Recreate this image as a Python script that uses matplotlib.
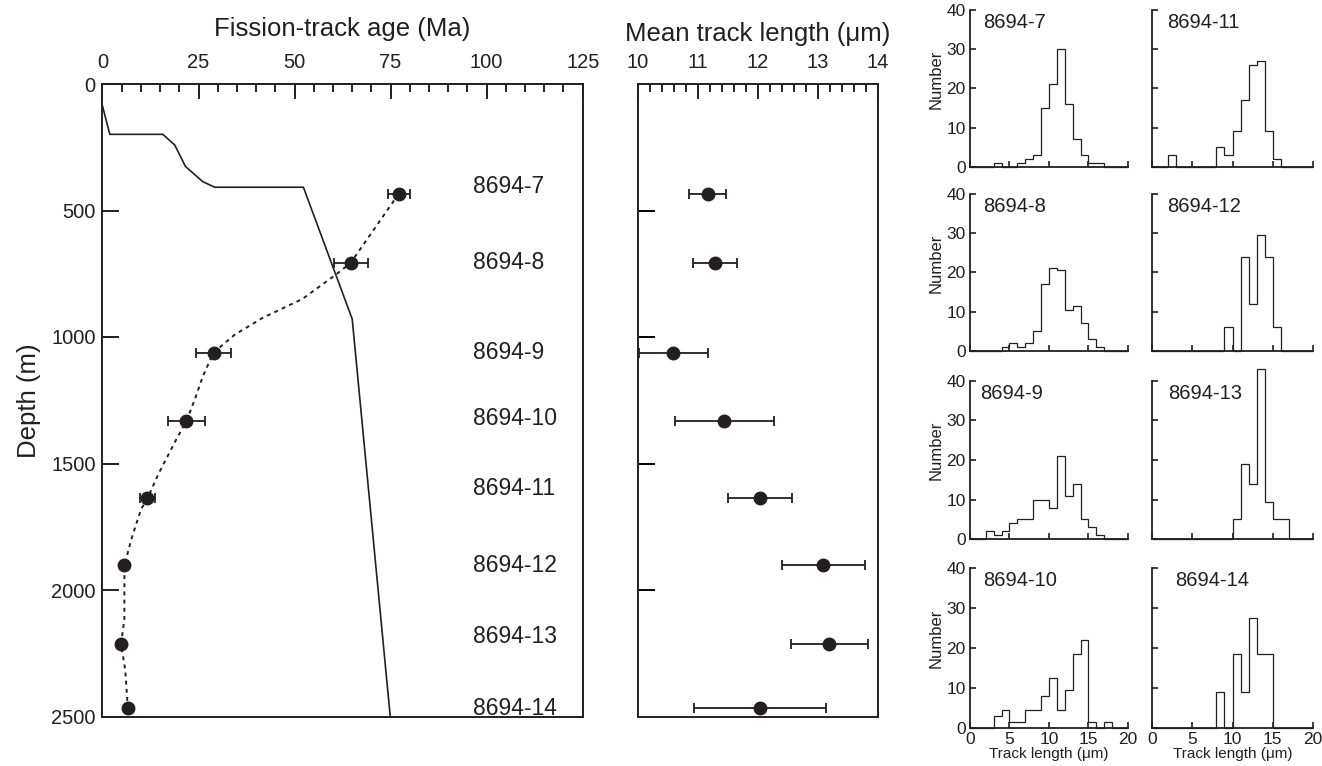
import numpy as np
import matplotlib
matplotlib.use('Agg')
import matplotlib.pyplot as plt
from matplotlib.ticker import MultipleLocator

plt.rcParams['font.family'] = ['Liberation Sans', 'DejaVu Sans']
ink = '#231f20'

# ---- data ----
samples = ['8694-7', '8694-8', '8694-9', '8694-10', '8694-11', '8694-12', '8694-13', '8694-14']
depth = [434, 707, 1062, 1333, 1638, 1903, 2215, 2467]
label_depth = [405, 707, 1063, 1323, 1600, 1903, 2183, 2467]
ft_age = [77.1, 64.6, 28.9, 21.8, 11.7, 5.7, 4.8, 6.6]
ft_age_err = [2.9, 4.4, 4.6, 4.8, 2.0, 0.0, 0.0, 0.0]

# dotted line through the ages
trend_age = [77.1, 64.6, 60.7, 52.0, 41.6, 34.4, 28.9, 26.1, 24.0, 23.0, 21.8, 19.2, 14.7,
             11.7, 10.0, 7.5, 5.7, 5.7, 4.8, 5.9, 6.6]
trend_depth = [434, 707, 754, 850, 925, 991, 1062, 1156, 1248, 1287, 1333, 1405, 1537,
               1638, 1682, 1800, 1903, 2116, 2215, 2313, 2467]

# solid line
model_age = [0, 1.9, 15.7, 18.8, 21.6, 26.1, 29.2, 52.3, 65.0, 74.9]
model_depth = [87, 199, 199, 241, 326, 386, 408, 408, 929, 2500]

# mean track length
mtl = [11.16, 11.28, 10.59, 11.44, 12.03, 13.09, 13.19, 12.03]
mtl_err = [0.31, 0.37, 0.57, 0.82, 0.53, 0.69, 0.64, 1.1]

# track length histograms, 1 um bins from 0 to 20
bin_edges = np.arange(0, 21, 1)
h7 = [0, 0, 0, 1, 0, 0, 1, 2, 3, 15, 21, 30, 16, 7, 3, 1, 1, 0, 0, 0]
h8 = [0, 0, 0, 0, 1, 2, 1, 2, 5, 17, 21, 20.5, 10.5, 11.5, 7, 3, 1, 0, 0, 0]
h9 = [0, 0, 2, 1, 2, 4, 5, 5, 10, 10, 8, 21, 11, 14, 5, 3, 1, 0, 0, 0]
h10 = [0, 0, 0, 3, 4.5, 1.5, 1.5, 4.5, 4.5, 8, 12.5, 4.5, 9.5, 18.5, 22, 1.5, 0, 1.5, 0, 0]
h11 = [0, 0, 3, 0, 0, 0, 0, 0, 5, 3, 9, 17, 26, 27, 9, 2, 0, 0, 0, 0]
h12 = [0, 0, 0, 0, 0, 0, 0, 0, 0, 6, 0, 24, 12, 29.5, 24, 6, 0, 0, 0, 0]
h13 = [0, 0, 0, 0, 0, 0, 0, 0, 0, 0, 5, 19, 14, 43, 9.5, 5, 5, 0, 0, 0]
h14 = [0, 0, 0, 0, 0, 0, 0, 0, 9, 0, 18.5, 9, 27.5, 18.5, 18.5, 0, 0, 0, 0, 0]

W, H = 1322, 766
fig = plt.figure(figsize=(W / 100, H / 100), dpi=100)


def rect(l, t, r, b):
    return [l / W, 1 - b / H, (r - l) / W, (b - t) / H]


def box_style(ax):
    for s in ax.spines.values():
        s.set_linewidth(1.4)
        s.set_color(ink)


# ---- fission-track age vs depth ----
ax1 = fig.add_axes(rect(102.5, 84, 582.7, 716.5))
box_style(ax1)
ax1.plot(model_age, model_depth, color=ink, lw=1.2, zorder=2)
ax1.plot(trend_age, trend_depth, color=ink, lw=1.4, ls=(0, (2, 2.2)), zorder=2)
ax1.errorbar(ft_age, depth, xerr=ft_age_err, fmt='o', ms=9, color=ink, ecolor=ink,
             elinewidth=1.3, capsize=3.5, capthick=1.3, zorder=3)
for name, d in zip(samples, label_depth):
    ax1.text(96.5, d, name, fontsize=16.5, color=ink, va='center', ha='left')
ax1.set_xlim(0, 125)
ax1.set_ylim(2500, 0)
ax1.xaxis.tick_top()
ax1.xaxis.set_label_position('top')
ax1.xaxis.set_major_locator(MultipleLocator(25))
ax1.xaxis.set_minor_locator(MultipleLocator(5))
ax1.set_yticks([0, 500, 1000, 1500, 2000, 2500])
ax1.tick_params(axis='x', which='major', direction='in', length=11, width=1.4, pad=9,
                labelsize=14.5, colors=ink, top=True, bottom=False)
ax1.tick_params(axis='x', which='minor', direction='in', length=6, width=1.2, top=True, bottom=False)
ax1.tick_params(axis='y', direction='in', length=12, width=1.4, pad=5, labelsize=14.5,
                colors=ink, left=True, right=False)
ax1.set_xlabel('Fission-track age (Ma)', fontsize=18.5, color=ink, labelpad=12)
ax1.set_ylabel('Depth (m)', fontsize=18.5, color=ink, labelpad=7)

# ---- mean track length vs depth ----
ax2 = fig.add_axes(rect(638, 84, 878, 716.5))
box_style(ax2)
ax2.errorbar(mtl, depth, xerr=mtl_err, fmt='o', ms=9, color=ink, ecolor=ink,
             elinewidth=1.3, capsize=3.5, capthick=1.3, zorder=3, clip_on=False)
ax2.set_xlim(10, 14)
ax2.set_ylim(2500, 0)
ax2.xaxis.tick_top()
ax2.xaxis.set_label_position('top')
ax2.xaxis.set_major_locator(MultipleLocator(1))
ax2.xaxis.set_minor_locator(MultipleLocator(0.2))
ax2.set_yticks([500, 1000, 1500, 2000])
ax2.set_yticklabels([])
ax2.tick_params(axis='x', which='major', direction='in', length=11, width=1.4, pad=9,
                labelsize=14.5, colors=ink, top=True, bottom=False)
ax2.tick_params(axis='x', which='minor', direction='in', length=6, width=1.2, top=True, bottom=False)
ax2.tick_params(axis='y', direction='in', length=12, width=1.4, left=True, right=False)
ax2.set_xlabel('Mean track length (\u03bcm)', fontsize=18.5, color=ink, labelpad=8)

# ---- track length histograms ----
hists = [h7, h8, h9, h10, h11, h12, h13, h14]
cols = [(970, 1128), (1152, 1313)]
rows = [(10, 166.7), (194, 350.7), (380.7, 539.3), (567.7, 727.7)]
label_x = [1.6, 1.7, 1.3, 1.6, 1.9, 1.9, 2.05, 2.9]

for i, (name, counts) in enumerate(zip(samples, hists)):
    c, r = divmod(i, 4)
    l, rr = cols[c]
    t, b = rows[r]
    ax = fig.add_axes(rect(l, t, rr, b))
    ax.stairs(counts, bin_edges, baseline=0, color=ink, lw=0.9, clip_on=False)
    ax.set_xlim(0, 20)
    ax.set_ylim(0, 40)
    for side in ['top', 'right']:
        ax.spines[side].set_visible(False)
    for side in ['left', 'bottom']:
        ax.spines[side].set_linewidth(1.3)
        ax.spines[side].set_color(ink)
    ax.set_xticks([0, 5, 10, 15, 20])
    ax.set_yticks([0, 10, 20, 30, 40])
    ax.tick_params(direction='in', length=4.5, width=1.2, labelsize=12.5, colors=ink, pad=3)
    ax.text(label_x[i], 36.8, name, fontsize=14.5, color=ink, va='center', ha='left')
    if c == 0:
        ax.set_ylabel('Number', fontsize=12, color=ink, labelpad=1)
        ax.yaxis.set_label_coords(-0.17, 0.56)
    else:
        ax.set_yticklabels([])
    if r == 3:
        ax.set_xlabel('Track length (\u03bcm)', fontsize=11, color=ink, labelpad=0)
    else:
        ax.set_xticklabels([])

fig.savefig('out.png', dpi=100)
